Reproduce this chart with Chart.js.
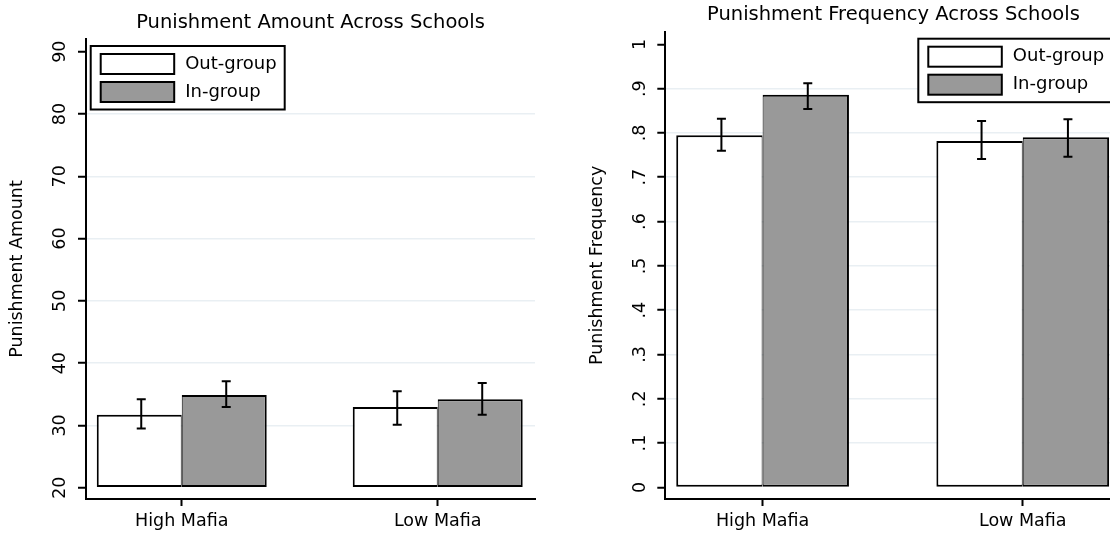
<!DOCTYPE html>
<html lang="en">
<head>
<meta charset="utf-8">
<title>Punishment Across Schools</title>
<script src="https://cdn.jsdelivr.net/npm/chart.js"></script>
<style>
  html, body { margin: 0; padding: 0; background: #fff; overflow: hidden; }
  body { width: 1110px; height: 533px; position: relative; }
  .box { position: absolute; top: 0; height: 533px; }
  #left { left: 0; width: 555px; }
  #right { left: 555px; width: 570px; }
</style>
</head>
<body>
<div class="box" id="left"><canvas id="amountChart"></canvas></div>
<div class="box" id="right"><canvas id="freqChart"></canvas></div>
<script>
var categories = ['High Mafia', 'Low Mafia'];
var groups = ['Out-group', 'In-group'];

// Punishment amount (left)
var amountOut = [31.7, 32.95];
var amountIn = [34.9, 34.2];
var amountOutLo = [29.5, 30.1];
var amountOutHi = [34.2, 35.5];
var amountInLo = [32.95, 31.7];
var amountInHi = [37.1, 36.8];
var amountTicks = [20, 30, 40, 50, 60, 70, 80, 90];
var amountTickLabels = ['20', '30', '40', '50', '60', '70', '80', '90'];

// Punishment frequency (right)
var freqOut = [0.795, 0.782];
var freqIn = [0.886, 0.790];
var freqOutLo = [0.760, 0.741];
var freqOutHi = [0.832, 0.827];
var freqInLo = [0.854, 0.746];
var freqInHi = [0.912, 0.831];
var freqTicks = [0, 0.1, 0.2, 0.3, 0.4, 0.5, 0.6, 0.7, 0.8, 0.9, 1];
var freqTickLabels = ['0', '.1', '.2', '.3', '.4', '.5', '.6', '.7', '.8', '.9', '1'];

var FONT = '"DejaVu Sans", sans-serif';

var errorBars = {
  id: 'errorBars',
  afterDatasetsDraw: function(chart) {
    var ctx = chart.ctx, ys = chart.scales.y;
    ctx.save();
    ctx.strokeStyle = '#000';
    ctx.lineWidth = 2;
    chart.data.datasets.forEach(function(ds, di) {
      chart.getDatasetMeta(di).data.forEach(function(bar, i) {
        var x = bar.x + 2;
        var lo = ys.getPixelForValue(ds.errLo[i]);
        var hi = ys.getPixelForValue(ds.errHi[i]);
        ctx.beginPath();
        ctx.moveTo(x, lo); ctx.lineTo(x, hi);
        ctx.moveTo(x - 4.5, lo); ctx.lineTo(x + 4.5, lo);
        ctx.moveTo(x - 4.5, hi); ctx.lineTo(x + 4.5, hi);
        ctx.stroke();
      });
    });
    ctx.restore();
  }
};

var boxLegend = {
  id: 'boxLegend',
  afterDraw: function(chart, args, opts) {
    var ctx = chart.ctx, a = chart.chartArea;
    var x0 = a.left + opts.dx, y0 = a.top + opts.dy;
    ctx.save();
    ctx.fillStyle = '#fff';
    ctx.fillRect(x0, y0, 194, 63.5);
    ctx.lineWidth = 2;
    ctx.strokeStyle = '#000';
    ctx.strokeRect(x0, y0, 194, 63.5);
    ctx.font = '18px ' + FONT;
    ctx.textBaseline = 'middle';
    chart.data.datasets.forEach(function(ds, i) {
      var sy = y0 + 8 + i * 28;
      ctx.fillStyle = ds.backgroundColor;
      ctx.fillRect(x0 + 10, sy, 73.5, 20);
      ctx.strokeRect(x0 + 10, sy, 73.5, 20);
      ctx.fillStyle = '#000';
      ctx.fillText(ds.label, x0 + 94.5, sy + 10);
    });
    ctx.restore();
  }
};

function makeChart(id, c) {
  var toPoints = function(vals) {
    return vals.map(function(v, i) { return { x: i + 1, y: v }; });
  };
  return new Chart(document.getElementById(id), {
    type: 'bar',
    data: {
      datasets: [{
        label: groups[0],
        data: toPoints(c.out),
        errLo: c.outLo, errHi: c.outHi,
        backgroundColor: '#ffffff',
        borderWidth: { top: 2, bottom: 2, left: 2, right: 1 }
      }, {
        label: groups[1],
        data: toPoints(c.inn),
        errLo: c.inLo, errHi: c.inHi,
        backgroundColor: '#999999',
        borderWidth: { top: 2, bottom: 2, left: 1, right: 2 }
      }]
    },
    options: {
      responsive: true,
      maintainAspectRatio: false,
      animation: false,
      events: [],
      layout: { padding: { left: 0, right: c.padRight, top: 0, bottom: 0 } },
      datasets: {
        bar: {
          base: c.base,
          borderColor: '#000',
          borderSkipped: false,
          categoryPercentage: 0.664,
          barPercentage: 1
        }
      },
      plugins: {
        legend: { display: false },
        tooltip: { enabled: false },
        title: {
          display: true,
          text: c.title,
          fullSize: false,
          color: '#000',
          font: { family: FONT, size: 19.5, weight: 'normal' },
          padding: c.titlePad
        },
        boxLegend: { dx: c.legendDx, dy: 7 }
      },
      scales: {
        x: {
          type: 'linear',
          offset: false,
          min: 0.626,
          max: 2.38,
          afterBuildTicks: function(s) {
            s.ticks = categories.map(function(_, i) { return { value: i + 1 }; });
          },
          afterFit: function(s) { s.height = 34; },
          ticks: {
            autoSkip: false,
            maxRotation: 0,
            padding: 5,
            color: '#000',
            font: { family: FONT, size: 17.5 },
            callback: function(v) { return categories[v - 1]; }
          },
          grid: {
            offset: false,
            drawOnChartArea: false,
            drawTicks: true,
            tickLength: 7,
            tickWidth: 2,
            tickColor: '#000'
          },
          border: { display: true, color: '#000', width: 2 }
        },
        y: {
          min: c.yMin,
          max: c.yMax,
          afterBuildTicks: function(s) {
            s.ticks = c.ticks.map(function(v) { return { value: v }; });
          },
          afterFit: function(s) { s.width = c.yWidth; },
          ticks: {
            autoSkip: false,
            minRotation: 90,
            maxRotation: 90,
            crossAlign: 'center',
            padding: c.tickPad,
            color: '#000',
            font: { family: FONT, size: 17.5 },
            callback: function(v, i) { return c.tickLabels[i]; }
          },
          grid: {
            color: function(ctx) {
              var v = ctx.tick ? ctx.tick.value : null;
              return (v === c.ticks[0] || v === c.ticks[c.ticks.length - 1]) ? 'rgba(0,0,0,0)' : '#e9eff3';
            },
            lineWidth: 1.5,
            tickLength: 8,
            tickWidth: 2,
            tickColor: '#000'
          },
          border: { display: true, color: '#000', width: 2 },
          title: {
            display: true,
            text: c.yTitle,
            color: '#000',
            font: { family: FONT, size: 17.5 },
            padding: { top: c.yTitleTop, bottom: 0 }
          }
        }
      }
    },
    plugins: [errorBars, boxLegend]
  });
}

makeChart('amountChart', {
  title: 'Punishment Amount Across Schools',
  yTitle: 'Punishment Amount',
  out: amountOut, inn: amountIn,
  outLo: amountOutLo, outHi: amountOutHi,
  inLo: amountInLo, inHi: amountInHi,
  ticks: amountTicks, tickLabels: amountTickLabels,
  base: 20, yMin: 18.19, yMax: 92.04,
  yWidth: 86, tickPad: 6.5, yTitleTop: 6.5,
  padRight: 20,
  titlePad: { top: 11, bottom: 4.6 },
  legendDx: 4.7
});

makeChart('freqChart', {
  title: 'Punishment Frequency Across Schools',
  yTitle: 'Punishment Frequency',
  out: freqOut, inn: freqIn,
  outLo: freqOutLo, outHi: freqOutHi,
  inLo: freqInLo, inHi: freqInHi,
  ticks: freqTicks, tickLabels: freqTickLabels,
  base: 0, yMin: -0.0262, yMax: 1.0285,
  yWidth: 110.3, tickPad: 8.5, yTitleTop: 31.5,
  padRight: 3.4,
  titlePad: { top: 3.3, bottom: 5 },
  legendDx: 253
});
</script>
</body>
</html>
